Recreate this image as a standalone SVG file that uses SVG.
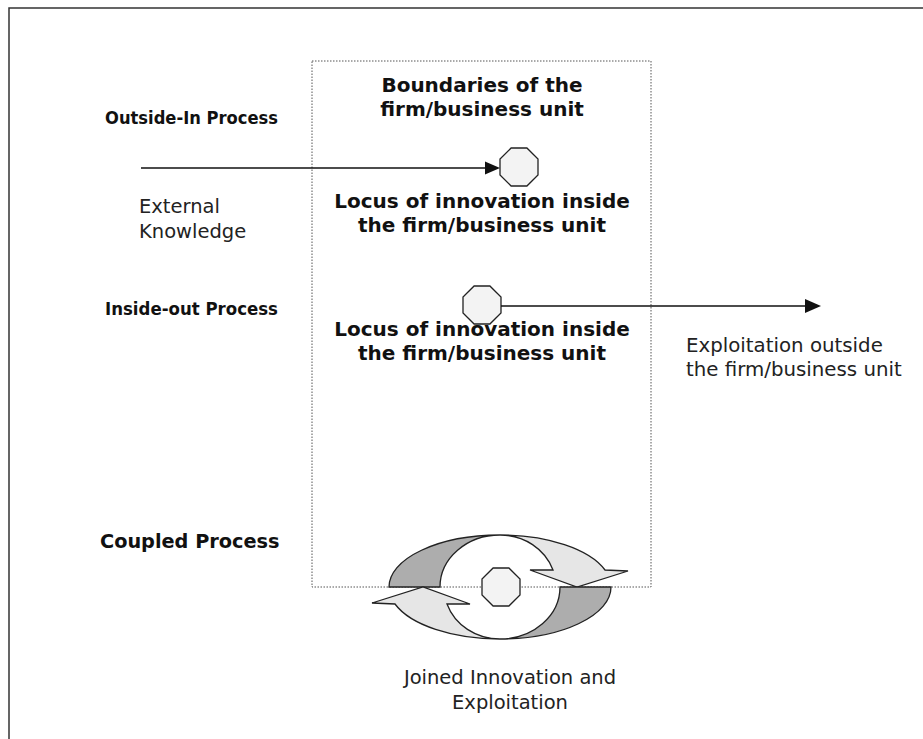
<svg xmlns="http://www.w3.org/2000/svg" width="923" height="739" viewBox="0 0 923 739">
<style>
.b{font-family:"DejaVu Sans",Verdana,sans-serif;font-weight:bold;fill:#111}
.r{font-family:"DejaVu Sans",Verdana,sans-serif;fill:#222}
.oct{fill:#f3f3f3;stroke:#222;stroke-width:1.3}
.ln{stroke:#111;stroke-width:1.5;fill:none}
.dark{fill:#adadad;stroke:#222;stroke-width:1.3}
.light{fill:#e6e6e6;stroke:#222;stroke-width:1.3}
</style>
<defs>
<polygon id="octa" points="-7.9,-19 7.9,-19 19,-7.9 19,7.9 7.9,19 -7.9,19 -19,7.9 -19,-7.9"/>
</defs>
<rect width="923" height="739" fill="#fff"/>
<g id="frame">
<path d="M9,739 L9,8 L923,8" fill="none" stroke="#333" stroke-width="1.5"/>
</g>
<g id="boundary">
<rect x="312" y="61" width="339" height="526" fill="none" stroke="#555" stroke-width="1" stroke-dasharray="1.5,1.5"/>
<text class="b" x="482" y="92" font-size="20" text-anchor="middle">Boundaries of the</text>
<text class="b" x="482" y="116" font-size="20" text-anchor="middle">firm/business unit</text>
</g>
<g id="labels">
<text class="b" x="105" y="124" font-size="18" textLength="173" lengthAdjust="spacingAndGlyphs">Outside-In Process</text>
<text class="b" x="105" y="315" font-size="18" textLength="173" lengthAdjust="spacingAndGlyphs">Inside-out Process</text>
<text class="b" x="100" y="548" font-size="19.3">Coupled Process</text>
</g>
<g id="outside-in">
<use href="#octa" class="oct" x="519" y="167"/>
<text class="b" x="482" y="208" font-size="20" text-anchor="middle">Locus of innovation inside</text>
<text class="b" x="482" y="232" font-size="20" text-anchor="middle">the firm/business unit</text>
<text class="r" x="139" y="213" font-size="19.5">External</text>
<text class="r" x="139" y="238" font-size="19.5">Knowledge</text>
</g>
<g id="inside-out">
<use href="#octa" class="oct" x="482" y="305"/>
<text class="b" x="482" y="336" font-size="20" text-anchor="middle">Locus of innovation inside</text>
<text class="b" x="482" y="360" font-size="20" text-anchor="middle">the firm/business unit</text>
<text class="r" x="686" y="352" font-size="19.8">Exploitation outside</text>
<text class="r" x="686" y="376" font-size="19.8">the firm/business unit</text>
</g>
<g id="connectors">
<line class="ln" x1="141" y1="168" x2="487" y2="168"/>
<polygon points="485,161.5 500,168 485,174.5" fill="#111"/>
<line class="ln" x1="501" y1="306" x2="807" y2="306"/>
<polygon points="805,299 821,306 805,313" fill="#111"/>
</g>
<g id="coupled">
<path class="dark" d="M389,587 A111,52 0 0 1 500,535 A60,52 0 0 0 440,587 Z"/>
<path class="light" d="M500,535 A111,52 0 0 1 605,570 L628,571 L577,587 L530,570 L553,570 A56,52 0 0 0 500,535 Z"/>
<path class="dark" d="M611,587 A111,52 0 0 1 500,639 A60,52 0 0 0 560,587 Z"/>
<path class="light" d="M500,639 A111,52 0 0 1 395,604 L372,603 L423,587 L470,604 L447,604 A56,52 0 0 0 500,639 Z"/>
<use href="#octa" class="oct" x="501" y="587"/>
<text class="r" x="510" y="684" font-size="19.5" text-anchor="middle">Joined Innovation and</text>
<text class="r" x="510" y="709" font-size="19.5" text-anchor="middle">Exploitation</text>
</g>
</svg>
